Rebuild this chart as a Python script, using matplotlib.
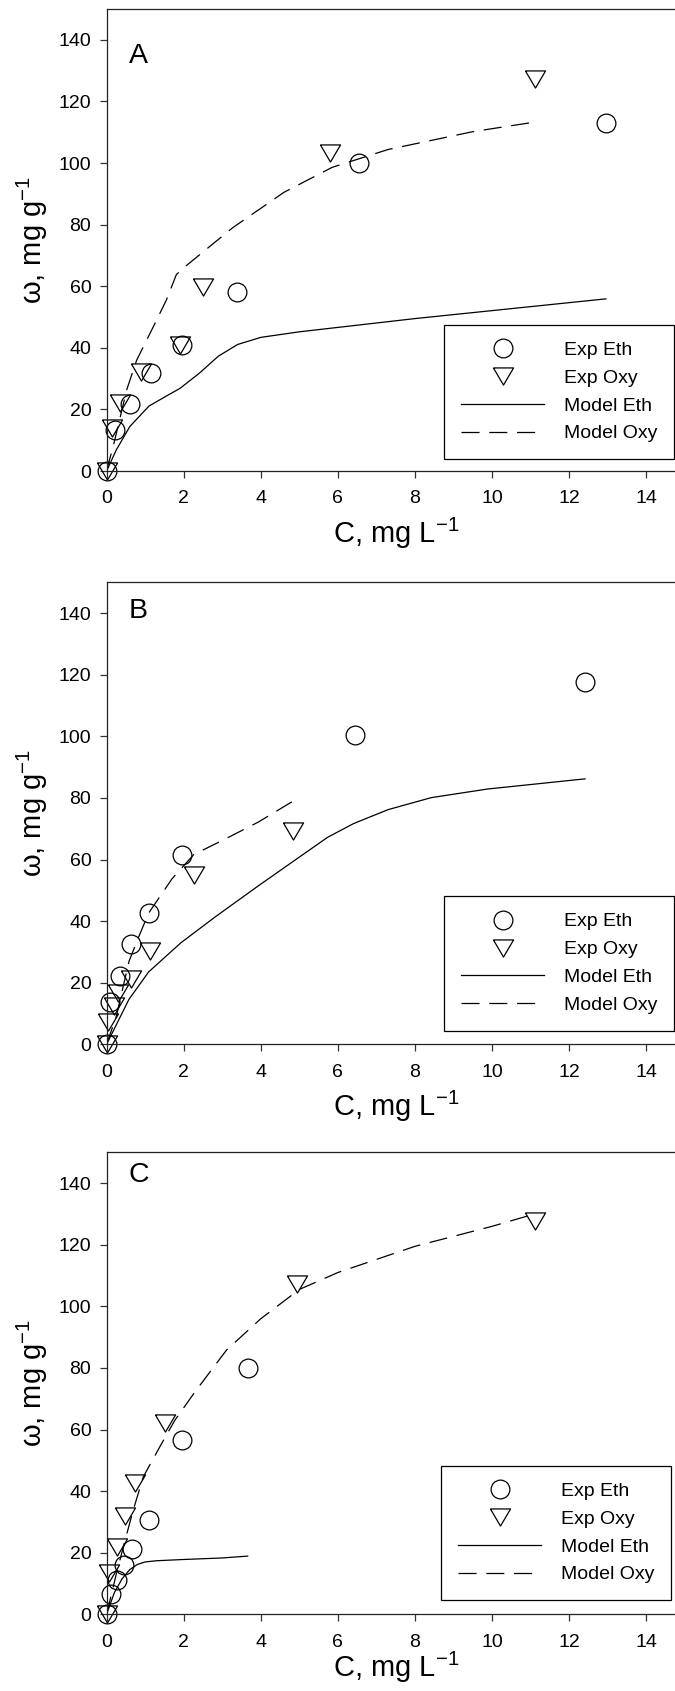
import matplotlib
matplotlib.use("Agg")
import matplotlib.pyplot as plt

plt.rcParams['font.family'] = ['Liberation Sans', 'DejaVu Sans']
plt.rcParams['mathtext.fontset'] = 'custom'
plt.rcParams['mathtext.rm'] = 'Liberation Sans'
plt.rcParams['mathtext.it'] = 'Liberation Serif'
plt.rcParams['mathtext.default'] = 'rm'
plt.rcParams['lines.scale_dashes'] = False

# ---------------- data ----------------
panel_labels = ["A", "B", "C"]
legend_labels = ["Exp Eth", "Exp Oxy", "Model Eth", "Model Oxy"]
x_ticks = [0, 2, 4, 6, 8, 10, 12, 14]
y_ticks = [0, 20, 40, 60, 80, 100, 120, 140]

# Panel A
A_exp_eth_x = [0, 0.23, 0.60, 1.15, 1.95, 3.37, 6.54, 12.96]
A_exp_eth_y = [0, 13.3, 21.7, 31.8, 41.0, 58.0, 100.0, 113.1]
A_exp_oxy_x = [0, 0.13, 0.34, 0.89, 1.90, 2.49, 5.80, 11.11]
A_exp_oxy_y = [0, 13.9, 22.0, 32.2, 40.9, 59.7, 103.2, 127.4]
A_mod_eth_x = [0, 0.25, 0.6, 1.1, 1.6, 1.9, 2.4, 2.9, 3.4, 4.0, 5.0, 8.0, 12.95]
A_mod_eth_y = [0, 6.8, 14.4, 21.1, 24.7, 26.8, 31.7, 37.3, 41.1, 43.4, 45.2, 49.5, 55.9]
A_mod_oxy_x = [0, 0.05, 0.17, 0.52, 0.78, 1.17, 1.55, 1.81, 2.0, 3.27, 4.6, 5.85, 7.3, 9.5, 11.1]
A_mod_oxy_y = [0, 2.5, 7.9, 26.3, 36.0, 45.8, 55.5, 63.8, 66.0, 79.0, 90.5, 98.6, 104.4, 110.2, 113.3]

# Panel B
B_exp_eth_x = [0, 0.08, 0.34, 0.63, 1.10, 1.95, 6.45, 12.41]
B_exp_eth_y = [0, 13.7, 22.1, 32.5, 42.6, 61.6, 100.5, 117.6]
B_exp_oxy_x = [0, 0.04, 0.19, 0.30, 0.64, 1.12, 2.27, 4.84]
B_exp_oxy_y = [0, 7.3, 12.3, 16.6, 21.3, 30.2, 54.9, 69.4]
B_mod_eth_x = [0, 0.58, 1.09, 1.93, 2.82, 3.94, 4.84, 5.73, 6.41, 7.3, 8.42, 9.88, 12.41]
B_mod_eth_y = [0, 14.6, 23.5, 33.0, 41.4, 51.5, 59.4, 67.2, 71.7, 76.2, 80.1, 82.9, 86.2]
B_mod_oxy_x = [0, 0.25, 0.58, 0.81, 1.09, 1.70, 2.26, 3.16, 3.94, 4.84]
B_mod_oxy_y = [0, 9.0, 26.9, 34.2, 42.6, 53.8, 61.6, 67.2, 72.2, 79.0]

# Panel C
C_exp_eth_x = [0, 0.11, 0.27, 0.45, 0.67, 1.10, 1.96, 3.66]
C_exp_eth_y = [0, 6.6, 11.2, 16.0, 21.1, 30.5, 56.6, 80.0]
C_exp_oxy_x = [0, 0.06, 0.27, 0.49, 0.73, 1.51, 4.93, 11.11]
C_exp_oxy_y = [0, 13.5, 21.7, 32.0, 42.5, 62.0, 107.4, 127.8]
C_mod_eth_x = [0, 0.2, 0.4, 0.6, 0.8, 1.0, 1.3, 2.0, 3.0, 3.66]
C_mod_eth_y = [0, 7.0, 11.5, 14.5, 16.2, 17.0, 17.4, 17.8, 18.3, 18.9]
C_mod_oxy_x = [0, 0.26, 0.48, 0.69, 0.95, 1.38, 1.77, 2.29, 3.11, 4.0, 5.0, 6.0, 8.0, 10.0, 11.1]
C_mod_oxy_y = [0, 13.5, 24.1, 33.8, 44.6, 54.4, 63.0, 72.2, 85.8, 96.0, 105.5, 111.0, 119.5, 126.0, 130.0]

panels = [
    (A_exp_eth_x, A_exp_eth_y, A_exp_oxy_x, A_exp_oxy_y, A_mod_eth_x, A_mod_eth_y, A_mod_oxy_x, A_mod_oxy_y),
    (B_exp_eth_x, B_exp_eth_y, B_exp_oxy_x, B_exp_oxy_y, B_mod_eth_x, B_mod_eth_y, B_mod_oxy_x, B_mod_oxy_y),
    (C_exp_eth_x, C_exp_eth_y, C_exp_oxy_x, C_exp_oxy_y, C_mod_eth_x, C_mod_eth_y, C_mod_oxy_x, C_mod_oxy_y),
]

# ---------------- layout ----------------
W, H = 675, 1691
fig = plt.figure(figsize=(W / 100, H / 100), dpi=100)
left = 106.6 / W
width = 578.3 / W
height = 461.9 / H
bottoms_px = [471.0, 1044.3, 1614.3]
letter_tops = [138.9, 144.9, 147.0]
legend_anchor = [(0.9806, 0.026), (0.9806, 0.0294), (0.9754, 0.031)]
xlabel_pads = [6, 6, -1]

tri = [(-1, 0.85), (1, 0.85), (0, -0.85), (-1, 0.85)]

for i, data in enumerate(panels):
    ex, ey, ox, oy, mex, mey, mox, moy = data
    ax = fig.add_axes([left, 1 - bottoms_px[i] / H, width, height])
    l3, = ax.plot(mex, mey, color='black', lw=0.9, label=legend_labels[2])
    l4, = ax.plot(mox, moy, color='black', lw=0.9, dashes=(13, 7), label=legend_labels[3])
    l1, = ax.plot(ex, ey, ls='none', marker='o', ms=13.5, mfc='none', mec='black',
                  mew=0.9, clip_on=False, label=legend_labels[0])
    l2, = ax.plot(ox, oy, ls='none', marker=tri, ms=14.5, mfc='none', mec='black',
                  mew=0.9, clip_on=False, label=legend_labels[1])
    ax.set_xlim(0, 15)
    ax.set_ylim(0, 150)
    ax.set_xticks(x_ticks)
    ax.set_yticks(y_ticks)
    ax.tick_params(axis='both', direction='out', length=5, width=0.9, labelsize=14, color='#333333')
    ax.tick_params(axis='x', pad=9)
    ax.tick_params(axis='y', pad=6)
    for s in ax.spines.values():
        s.set_linewidth(0.9)
        s.set_color('#222222')
    ax.set_xlabel(r'C, mg L$^{-1}$', fontsize=21, labelpad=xlabel_pads[i])
    ax.set_ylabel(r'$\omega$, mg g$^{-1}$', fontsize=21, labelpad=6)
    ax.text(0.58, letter_tops[i], panel_labels[i], fontsize=20.5, ha='left', va='top')
    leg = ax.legend(handles=[l1, l2, l3, l4], loc='lower right', bbox_to_anchor=legend_anchor[i],
                    borderaxespad=0, fontsize=14, frameon=True, fancybox=False,
                    edgecolor='black', framealpha=1, handlelength=4.3, handletextpad=1.0,
                    labelspacing=0.53, borderpad=0.85, numpoints=1)
    leg.get_frame().set_linewidth(0.9)

fig.savefig('out.png', dpi=100)
